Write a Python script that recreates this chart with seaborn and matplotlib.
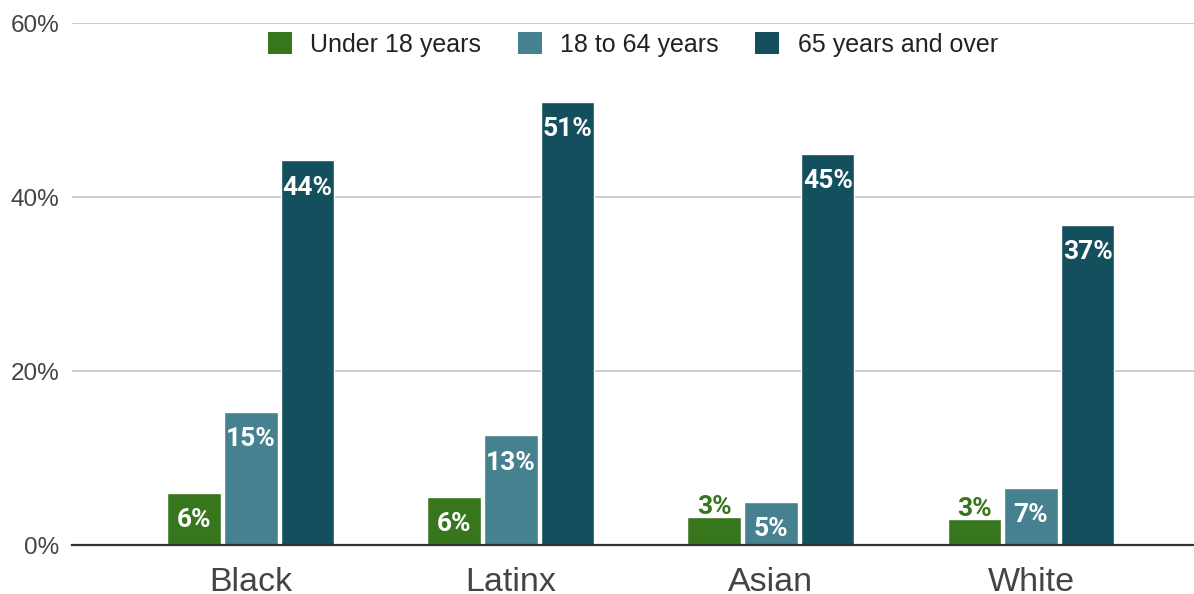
import matplotlib
matplotlib.use("Agg")
import matplotlib.pyplot as plt
import seaborn as sns
import pandas as pd
from matplotlib.patches import Patch

categories = ["Black", "Latinx", "Asian", "White"]
series_names = ["Under 18 years", "18 to 64 years", "65 years and over"]
under18 = [6.0, 5.5, 3.2, 3.0]
age18_64 = [15.3, 12.6, 5.0, 6.6]
age65 = [44.2, 50.9, 45.0, 36.8]
tick_values = [0, 20, 40, 60]
tick_labels = ["0%", "20%", "40%", "60%"]
colors = ["#38761d", "#45818e", "#134f5c"]

rows = []
for name, vals in zip(series_names, [under18, age18_64, age65]):
    for c, v in zip(categories, vals):
        rows.append({"group": c, "series": name, "value": v})
df = pd.DataFrame(rows)

sns.set_style("white")
plt.rcParams["font.family"] = ["Liberation Sans", "DejaVu Sans"]

fig = plt.figure(figsize=(11.94, 5.94), dpi=100)
ax = fig.add_axes([72 / 1194, 49 / 594, 1 - 72 / 1194, (545 - 23) / 594])

sns.barplot(data=df, x="group", y="value", hue="series", order=categories,
            hue_order=series_names, palette=colors, width=0.655, gap=0.06,
            saturation=1, ax=ax, legend=False, errorbar=None, zorder=3)

ax.set_xlim(-0.688, 3.627)
ax.set_ylim(0, 60)
ax.set_yticks(tick_values)
ax.set_yticklabels(tick_labels)
ax.yaxis.grid(True, color="#cccccc", linewidth=1.4, zorder=0)
ax.xaxis.grid(False)
for s in ["top", "right", "left"]:
    ax.spines[s].set_visible(False)
ax.spines["bottom"].set_color("#333333")
ax.spines["bottom"].set_linewidth(1.6)
ax.spines["bottom"].set_zorder(4)
ax.tick_params(axis="y", length=0, pad=9, labelsize=17.5, labelcolor="#444444")
ax.tick_params(axis="x", length=0, pad=16, labelsize=24.5, labelcolor="#444444")
ax.set_xlabel("")
ax.set_ylabel("")

for ci, cont in enumerate(ax.containers):
    for patch in cont:
        h = patch.get_height()
        x = patch.get_x() + patch.get_width() / 2
        txt = f"{round(h):d}%"
        if h < 4:
            ax.annotate(txt, (x, h), xytext=(0, 2), textcoords="offset points",
                        ha="center", va="baseline", fontsize=19, fontweight="bold",
                        family="Roboto", color=colors[ci], zorder=5)
        else:
            ax.annotate(txt, (x, h), xytext=(0, -11), textcoords="offset points",
                        ha="center", va="top", fontsize=19, fontweight="bold",
                        family="Roboto", color="white", zorder=5)

handles = [Patch(facecolor=c, edgecolor="none") for c in colors]
ax.legend(handles, series_names, loc="upper center", bbox_to_anchor=(0.5, 1.025),
          ncol=3, frameon=False, fontsize=18, handlelength=0.96, handleheight=0.96,
          handletextpad=0.75, columnspacing=1.45, labelcolor="#222222")

fig.savefig("out.png", dpi=100)
